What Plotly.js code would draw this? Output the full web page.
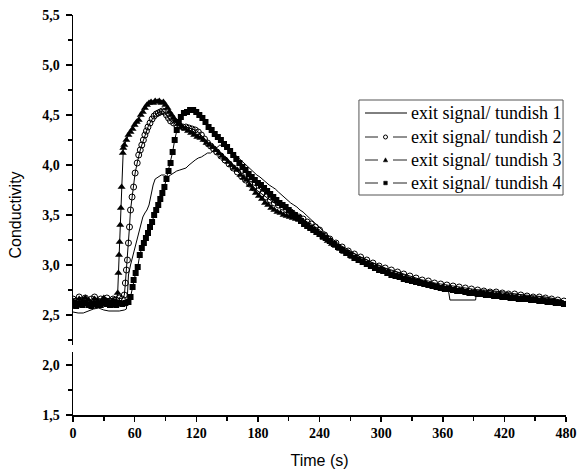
<!DOCTYPE html>
<html>
<head>
<meta charset="utf-8">
<script src="https://cdn.plot.ly/plotly-3.0.1.min.js"></script>
<style>html,body{margin:0;padding:0;background:#fff}#chart{width:585px;height:473px}</style>
</head>
<body>
<div id="chart"></div>
<script>
// ---- data ----
const seriesNames = ["exit signal/ tundish 1", "exit signal/ tundish 2", "exit signal/ tundish 3", "exit signal/ tundish 4"];

const t1 = [0,5,10,15,20,25,30,35,40,45,50,52,53,54,56,58,60,62,64,66,68,70,72,74,76,78,80,83,86,89,92,95,98,101,104,107,110,113,116,119,122,125,128,131,134,137,140,143,146,149,152,155,158,161,164,167,170,173,176,179,182,185,188,191,194,197,200,203,206,209,212,215,218,221,224,227,230,233,236,239,242,245,250,255,260,265,270,275,280,285,290,295,300,305,310,315,320,325,330,335,340,345,350,355,360,365,367,380,392,393,400,410,420,430,440,450,460,470,478];
const y1 = [2.53,2.52,2.52,2.54,2.56,2.57,2.55,2.54,2.54,2.54,2.55,2.56,2.7,2.9,3.0,3.08,3.18,3.25,3.32,3.4,3.48,3.52,3.55,3.6,3.7,3.8,3.86,3.88,3.9,3.9,3.88,3.9,3.92,3.94,3.95,3.96,3.97,4.0,4.03,4.05,4.07,4.08,4.1,4.12,4.12,4.15,4.17,4.2,4.19,4.16,4.14,4.13,4.1,4.07,4.05,4.02,3.98,3.96,3.93,3.9,3.88,3.85,3.83,3.8,3.78,3.76,3.73,3.7,3.68,3.65,3.62,3.6,3.58,3.55,3.53,3.5,3.47,3.44,3.42,3.39,3.36,3.33,3.28,3.24,3.2,3.17,3.14,3.11,3.08,3.06,3.03,3.01,2.99,2.96,2.94,2.93,2.91,2.89,2.87,2.86,2.84,2.83,2.81,2.8,2.79,2.78,2.65,2.65,2.65,2.75,2.75,2.74,2.73,2.71,2.7,2.69,2.68,2.66,2.64];

const t2 = [0,3,6,9,12,15,18,21,24,27,30,33,36,39,42,45,48,50,51,52,53,54,55,56,57.5,59,60.5,62.5,64,65.5,67,68.5,70,71.5,73,75,77,79,81,83,85,87,89,91,93,95,98,101,104,107,110,113,116,119,122,125,128,131,134,137,140,144,148,152,156,160,164,168,172,176,180,184,188,192,196,200,204,208,212,216,220,224,228,232,236,240,245,250,256,262,268,274,280,286,292,298,304,310,316,322,328,334,340,346,352,358,364,370,376,382,388,394,400,406,412,418,424,430,436,442,448,454,460,466,472,478];
const y2 = [2.66,2.64,2.68,2.65,2.67,2.63,2.66,2.68,2.64,2.66,2.65,2.67,2.64,2.66,2.65,2.67,2.66,2.7,2.82,2.95,3.05,3.22,3.38,3.55,3.68,3.78,3.92,4.02,4.1,4.15,4.2,4.25,4.3,4.34,4.38,4.42,4.46,4.49,4.51,4.52,4.53,4.54,4.53,4.5,4.47,4.44,4.42,4.4,4.39,4.38,4.38,4.37,4.36,4.35,4.33,4.3,4.26,4.22,4.19,4.16,4.13,4.09,4.05,4.01,3.97,3.93,3.89,3.85,3.81,3.77,3.74,3.71,3.68,3.65,3.62,3.6,3.58,3.55,3.53,3.5,3.48,3.46,3.43,3.41,3.38,3.35,3.3,3.26,3.22,3.18,3.14,3.11,3.08,3.05,3.02,2.99,2.97,2.95,2.93,2.91,2.89,2.87,2.85,2.84,2.82,2.81,2.8,2.79,2.78,2.77,2.76,2.75,2.74,2.73,2.73,2.72,2.71,2.71,2.7,2.69,2.68,2.68,2.67,2.66,2.65,2.64];

const t3 = [0,3,6,9,12,15,18,21,24,27,30,33,36,39,42,43.5,44.2,44.8,45.4,46,46.6,47.3,48.5,49,50,52,54,56,58,60,62,64,66,68,70,72,74,76,78,80,82,84,86,88,90,92,94,96,98,100,103,106,109,112,115,118,121,124,127,130,133,136,139,142,145,148,151,154,157,160,163,166,169,172,175,178,181,184,187,190,193,196,199,202,205,208,211,214,217,220,223,226,229,232,235,238,241,244,248,252,256,260,264,268,272,276,280,284,288,292,296,300,304,308,312,316,320,324,328,332,336,340,344,348,352,356,360,364,368,372,376,380,384,388,392,396,400,404,408,412,416,420,424,428,432,436,440,444,448,452,456,460,464,468,472,476,480];
const y3 = [2.64,2.62,2.66,2.63,2.67,2.65,2.62,2.66,2.64,2.63,2.67,2.64,2.62,2.65,2.63,2.72,2.92,3.1,3.23,3.4,3.57,3.78,4.12,4.17,4.2,4.25,4.3,4.33,4.36,4.4,4.43,4.45,4.5,4.53,4.57,4.6,4.62,4.63,4.62,4.64,4.63,4.64,4.62,4.63,4.6,4.57,4.53,4.5,4.47,4.44,4.41,4.38,4.36,4.34,4.32,4.3,4.28,4.27,4.25,4.22,4.2,4.18,4.15,4.12,4.09,4.06,4.03,4.0,3.97,3.95,3.9,3.87,3.85,3.8,3.76,3.72,3.69,3.66,3.62,3.6,3.57,3.55,3.53,3.52,3.5,3.49,3.48,3.47,3.46,3.45,3.43,3.42,3.4,3.37,3.35,3.32,3.3,3.27,3.24,3.21,3.19,3.16,3.13,3.11,3.08,3.06,3.04,3.02,3.0,2.98,2.97,2.95,2.93,2.92,2.9,2.89,2.88,2.86,2.85,2.84,2.83,2.82,2.81,2.8,2.79,2.78,2.78,2.77,2.76,2.76,2.75,2.74,2.74,2.73,2.73,2.72,2.72,2.71,2.71,2.7,2.7,2.69,2.69,2.68,2.68,2.67,2.67,2.66,2.66,2.65,2.65,2.64,2.63,2.63,2.62,2.62,2.61];

const t4 = [0,3,6,9,12,15,18,21,24,27,30,33,36,39,42,45,48,51,54,56,58,59,61,63,65,67,69,71,73,75,77,79,81,83,85,87,89,91,93,95,97,99,101,103,105,108,111,114,117,120,123,126,129,132,135,138,141,144,147,150,153,156,159,162,165,168,171,174,177,180,183,186,189,192,195,198,201,204,207,210,213,216,219,222,225,228,231,234,237,240,243,246,250,254,258,262,266,270,274,278,282,286,290,294,298,302,306,310,314,318,322,326,330,334,338,342,346,350,354,358,362,366,370,374,378,382,386,390,394,398,402,406,410,414,418,422,426,430,434,438,442,446,450,454,458,462,466,470,474,478];
const y4 = [2.6,2.59,2.61,2.6,2.62,2.6,2.59,2.61,2.6,2.6,2.62,2.61,2.6,2.61,2.6,2.62,2.61,2.62,2.63,2.68,2.78,2.85,2.92,2.98,3.1,3.17,3.22,3.27,3.32,3.38,3.43,3.5,3.55,3.6,3.66,3.72,3.78,3.86,3.94,4.02,4.13,4.25,4.35,4.43,4.48,4.52,4.53,4.55,4.55,4.53,4.5,4.47,4.43,4.38,4.35,4.31,4.28,4.25,4.21,4.18,4.14,4.1,4.06,4.02,3.98,3.95,3.91,3.88,3.85,3.82,3.8,3.77,3.74,3.71,3.68,3.65,3.62,3.6,3.58,3.55,3.52,3.5,3.47,3.44,3.41,3.39,3.37,3.35,3.33,3.31,3.29,3.27,3.24,3.21,3.18,3.15,3.12,3.1,3.07,3.05,3.03,3.01,2.99,2.97,2.95,2.94,2.92,2.9,2.89,2.88,2.86,2.85,2.84,2.83,2.82,2.81,2.8,2.79,2.78,2.77,2.76,2.76,2.75,2.74,2.74,2.73,2.72,2.72,2.71,2.71,2.7,2.7,2.69,2.69,2.68,2.68,2.67,2.67,2.66,2.66,2.66,2.65,2.65,2.64,2.64,2.63,2.63,2.62,2.62,2.61];

const yTickVals = [1.5,2.0,2.5,3.0,3.5,4.0,4.5,5.0,5.5];
const xTickVals = [0,60,120,180,240,300,360,420,480];

// ---- chart ----
const styles = [
  {mode: 'lines', marker: {}},
  {mode: 'lines+markers', marker: {symbol: 'circle-open', size: 6, color: '#000', line: {width: 1, color: '#000'}}},
  {mode: 'lines+markers', marker: {symbol: 'triangle-up', size: 7, color: '#000'}},
  {mode: 'lines+markers', marker: {symbol: 'square', size: 6, color: '#000'}}
];
const xs = [t1, t2, t3, t4];
const ys = [y1, y2, y3, y4];

const traces = [];
for (let i = 0; i < 4; i++) {
  traces.push({x: xs[i], y: ys[i], name: seriesNames[i], type: 'scatter', mode: styles[i].mode,
    line: {color: '#000', width: 1}, marker: styles[i].marker, showlegend: false});
}

// ---- hand-built legend box (layout decoration, in paper coordinates) ----
const W = 493, H = 400;           // plot area size in px
const px = v => v / W, py = v => v / H;
const legX0 = 0.580, legX1 = 0.994, legY0 = 0.55, legY1 = 0.7875;
const rowY = [0.755, 0.695, 0.6375, 0.58];
const sampX0 = 0.5923, sampX1 = 0.6775, markX = 0.6339, textX = 0.681;

const shapes = [
  {type: 'rect', xref: 'paper', yref: 'y', x0: -0.02, x1: 0.006, y0: 2.13, y1: 2.2,
   fillcolor: '#fff', line: {width: 0}, layer: 'above'},
  {type: 'rect', xref: 'paper', yref: 'paper', x0: legX0, x1: legX1, y0: legY0, y1: legY1,
   fillcolor: '#fff', line: {color: '#555', width: 1}, layer: 'above'}
];
const annotations = [];
const markerKinds = [null, 'circle', 'triangle', 'square'];
for (let i = 0; i < 4; i++) {
  const y = rowY[i];
  if (i === 0) {
    shapes.push({type: 'line', xref: 'paper', yref: 'paper', x0: sampX0, x1: sampX1, y0: y, y1: y,
      line: {color: '#000', width: 1}, layer: 'above'});
  } else {
    shapes.push({type: 'line', xref: 'paper', yref: 'paper', x0: sampX0, x1: sampX0 + px(13), y0: y, y1: y,
      line: {color: '#222', width: 1}, layer: 'above'});
    shapes.push({type: 'line', xref: 'paper', yref: 'paper', x0: sampX1 - px(14), x1: sampX1, y0: y, y1: y,
      line: {color: '#222', width: 1}, layer: 'above'});
    const k = markerKinds[i];
    if (k === 'circle') {
      shapes.push({type: 'circle', xref: 'paper', yref: 'paper', x0: markX - px(2), x1: markX + px(2),
        y0: y - py(2), y1: y + py(2), line: {color: '#000', width: 1}, fillcolor: '#fff', layer: 'above'});
    } else if (k === 'triangle') {
      const p = `M ${markX - px(2.2)} ${y - py(1.8)} L ${markX + px(2.2)} ${y - py(1.8)} L ${markX} ${y + py(2.2)} Z`;
      shapes.push({type: 'path', xref: 'paper', yref: 'paper', path: p, fillcolor: '#000',
        line: {color: '#000', width: 0.5}, layer: 'above'});
    } else {
      shapes.push({type: 'rect', xref: 'paper', yref: 'paper', x0: markX - px(1.8), x1: markX + px(1.8),
        y0: y - py(1.8), y1: y + py(1.8), fillcolor: '#000', line: {color: '#000', width: 0.5}, layer: 'above'});
    }
  }
  annotations.push({xref: 'paper', yref: 'paper', x: textX, y: y, xanchor: 'left', yanchor: 'middle',
    text: seriesNames[i], showarrow: false,
    font: {family: 'Liberation Serif', size: 18, color: '#000'}});
}

const tickFont = {family: 'Liberation Serif', size: 14, color: '#000', weight: 700};
const titleFont = {family: 'Liberation Sans', size: 16, color: '#000'};

const layout = {
  width: 585, height: 473,
  margin: {l: 73, r: 19, t: 15, b: 58},
  paper_bgcolor: '#fff', plot_bgcolor: '#fff',
  separators: ',.',
  showlegend: false,
  xaxis: {
    range: [0, 480], showgrid: false, zeroline: false,
    showline: true, linecolor: '#000', linewidth: 1.5,
    ticks: 'outside', ticklen: 5, tickwidth: 1.5, tickcolor: '#000',
    tickvals: xTickVals, tickfont: tickFont,
    minor: {dtick: 30, ticks: 'outside', ticklen: 4, tickwidth: 1.5, tickcolor: '#000', showgrid: false},
    title: {text: 'Time (s)', font: titleFont, standoff: 14}
  },
  yaxis: {
    range: [1.5, 5.5], showgrid: false, zeroline: false,
    showline: true, linecolor: '#000', linewidth: 1.5,
    ticks: 'outside', ticklen: 6, tickwidth: 1.5, tickcolor: '#000',
    tickvals: yTickVals, tickformat: '.1f', tickfont: tickFont, ticklabelstandoff: 3,
    minor: {dtick: 0.25, ticks: 'outside', ticklen: 4, tickwidth: 1.5, tickcolor: '#000', showgrid: false},
    title: {text: 'Conductivity', font: titleFont, standoff: 16}
  },
  shapes: shapes,
  annotations: annotations
};

Plotly.newPlot('chart', traces, layout, {displayModeBar: false, staticPlot: true});
</script>
</body>
</html>
